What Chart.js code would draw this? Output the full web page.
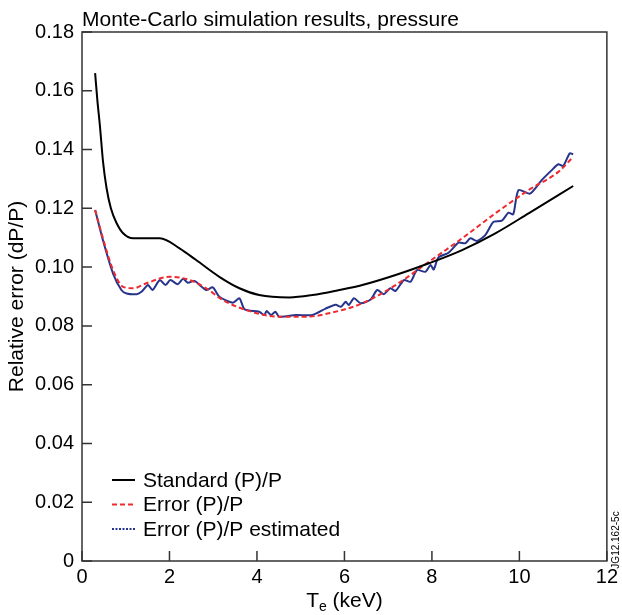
<!DOCTYPE html>
<html>
<head>
<meta charset="utf-8">
<script src="https://cdn.jsdelivr.net/npm/chart.js@4.4.1/dist/chart.umd.min.js"></script>
<style>
  html, body { margin: 0; padding: 0; background: #fff; }
  #wrap { width: 622px; height: 615px; position: relative; }
</style>
</head>
<body>
<div id="wrap"><canvas id="chart_mcPressure"></canvas></div>
<script>
// values
var titleText = 'Monte-Carlo simulation results, pressure';
var yTitle = 'Relative error (dP/P)';
var figId = 'JG12.162-5c';
var seriesLabels = ['Standard (P)/P', 'Error (P)/P', 'Error (P)/P estimated'];

var stdX = [0.30, 0.35, 0.41, 0.48, 0.56, 0.66, 0.79, 0.94, 1.17, 1.78, 2.23, 2.61, 3.14, 3.60, 4.05, 4.74, 5.27, 5.88, 6.41, 7.17, 7.93, 8.69, 9.45, 10.21, 11.23];
var stdY = [0.166, 0.157, 0.148, 0.136, 0.127, 0.120, 0.115, 0.1115, 0.1098, 0.1098, 0.1064, 0.1024, 0.0967, 0.0928, 0.0905, 0.0897, 0.0905, 0.0922, 0.0939, 0.0973, 0.1013, 0.1058, 0.1115, 0.1183, 0.1276];

var errX = [0.30, 0.49, 0.71, 0.94, 1.17, 1.47, 2.00, 2.46, 2.84, 3.22, 3.75, 4.51, 5.12, 5.65, 6.41, 7.17, 7.93, 8.69, 9.45, 10.21, 10.89, 11.20];
var errY = [0.1194, 0.1092, 0.0990, 0.0933, 0.0928, 0.0945, 0.0967, 0.0956, 0.0928, 0.0888, 0.0854, 0.0831, 0.0831, 0.0843, 0.0877, 0.0939, 0.1018, 0.1098, 0.1183, 0.1262, 0.1324, 0.1370];

var estX = [0.30, 0.50, 0.71, 0.90, 1.02, 1.25, 1.36, 1.51, 1.61, 1.78, 1.91, 2.02, 2.19, 2.31, 2.42, 2.57, 2.84, 2.99, 3.14, 3.45, 3.60, 3.72, 4.05, 4.17, 4.22, 4.32, 4.42, 4.51, 4.89, 5.27, 5.57, 5.80, 5.92, 6.03, 6.10, 6.22, 6.37, 6.60, 6.75, 6.90, 7.05, 7.17, 7.36, 7.51, 7.66, 7.85, 7.97, 8.04, 8.15, 8.38, 8.61, 8.76, 8.88, 9.03, 9.22, 9.41, 9.60, 9.75, 9.86, 9.98, 10.24, 10.51, 10.74, 10.89, 11.00, 11.15, 11.23];
var estY = [0.1194, 0.1080, 0.0978, 0.0922, 0.0910, 0.0908, 0.0916, 0.0939, 0.0922, 0.0956, 0.0939, 0.0956, 0.0942, 0.0960, 0.0947, 0.0953, 0.0922, 0.0931, 0.0899, 0.0879, 0.0894, 0.0856, 0.0848, 0.0837, 0.0851, 0.0837, 0.0848, 0.0831, 0.0837, 0.0837, 0.0859, 0.0872, 0.0865, 0.0882, 0.0871, 0.0894, 0.0877, 0.0890, 0.0922, 0.0908, 0.0928, 0.0919, 0.0956, 0.0950, 0.0990, 0.0984, 0.1007, 0.0992, 0.1033, 0.1049, 0.1083, 0.1081, 0.1098, 0.1089, 0.1109, 0.1154, 0.1158, 0.1185, 0.1180, 0.1262, 0.1250, 0.1296, 0.1330, 0.1350, 0.1344, 0.1387, 0.1384];

var xTicks = [0, 2, 4, 6, 8, 10, 12];
var yTicks = [0, 0.02, 0.04, 0.06, 0.08, 0.10, 0.12, 0.14, 0.16, 0.18];

var FONT = '"Liberation Sans", Arial, Helvetica, sans-serif';

function pts(xs, ys) {
    return xs.map(function (x, i) { return { x: x, y: ys[i] }; });
}

var chartDecor = {
    id: 'chartDecor',
    afterDraw: function (chart) {
        var ctx = chart.ctx;
        var a = chart.chartArea;
        var xs = chart.scales.x, ys = chart.scales.y;
        ctx.save();
        // frame
        ctx.strokeStyle = '#333';
        ctx.lineWidth = 1.5;
        ctx.strokeRect(a.left, a.top, a.right - a.left, a.bottom - a.top);
        // inward ticks
        ctx.beginPath();
        xTicks.forEach(function (v) {
            var px = xs.getPixelForValue(v);
            ctx.moveTo(px, a.bottom);
            ctx.lineTo(px, a.bottom - 10);
        });
        yTicks.forEach(function (v) {
            var py = ys.getPixelForValue(v);
            ctx.moveTo(a.left, py);
            ctx.lineTo(a.left + 10, py);
        });
        ctx.stroke();

        ctx.fillStyle = '#000';
        // title
        ctx.font = '21px ' + FONT;
        ctx.textAlign = 'left';
        ctx.textBaseline = 'alphabetic';
        ctx.fillText(titleText, a.left, 26);

        // x title with subscript
        var big = '21px ' + FONT, small = '14px ' + FONT;
        ctx.font = big;
        var wT = ctx.measureText('T').width;
        var wRest = ctx.measureText(' (keV)').width;
        ctx.font = small;
        var wE = ctx.measureText('e').width;
        var x0 = (a.left + a.right) / 2 - (wT + wE + wRest) / 2;
        var base = 607;
        ctx.font = big;
        ctx.fillText('T', x0, base);
        ctx.font = small;
        ctx.fillText('e', x0 + wT, base + 4);
        ctx.font = big;
        ctx.fillText(' (keV)', x0 + wT + wE, base);

        // figure id
        ctx.save();
        ctx.translate(616, 540);
        ctx.rotate(-Math.PI / 2);
        ctx.font = '10px ' + FONT;
        ctx.textAlign = 'center';
        ctx.textBaseline = 'middle';
        ctx.fillText(figId, 0, 0);
        ctx.restore();

        // legend, bottom left inside the plot
        chart.data.datasets.forEach(function (ds, i) {
            var y = a.bottom - 81 + i * 24.5;
            ctx.save();
            ctx.strokeStyle = ds.borderColor;
            ctx.lineWidth = ds.borderWidth;
            ctx.setLineDash(ds.legendDash || []);
            ctx.beginPath();
            ctx.moveTo(a.left + 30, y);
            ctx.lineTo(a.left + 53, y);
            ctx.stroke();
            ctx.restore();
            ctx.font = '21px ' + FONT;
            ctx.textBaseline = 'middle';
            ctx.fillStyle = '#000';
            ctx.fillText(ds.label, a.left + 61, y + 1);
        });
        ctx.restore();
    }
};

var chart_mcPressure = new Chart(document.getElementById('chart_mcPressure'), {
    type: 'line',
    data: {
        datasets: [
            {
                label: seriesLabels[0],
                data: pts(stdX, stdY),
                borderColor: '#000000',
                borderWidth: 2,
                cubicInterpolationMode: 'monotone',
                pointRadius: 0,
                legendDash: []
            },
            {
                label: seriesLabels[1],
                data: pts(errX, errY),
                borderColor: '#ee2a2e',
                borderWidth: 2,
                borderDash: [5, 3],
                cubicInterpolationMode: 'monotone',
                pointRadius: 0,
                legendDash: [5, 3]
            },
            {
                label: seriesLabels[2],
                data: pts(estX, estY),
                borderColor: '#27348b',
                borderWidth: 2,
                tension: 0.25,
                pointRadius: 0,
                legendDash: [2, 1.5]
            }
        ]
    },
    options: {
        animation: false,
        responsive: true,
        maintainAspectRatio: false,
        layout: {
            padding: { left: 0, right: 13, top: 32, bottom: 0 }
        },
        plugins: {
            legend: { display: false },
            title: { display: false },
            tooltip: { enabled: false }
        },
        scales: {
            x: {
                type: 'linear',
                min: 0,
                max: 12,
                border: { display: false },
                grid: { display: false, drawTicks: false },
                afterBuildTicks: function (s) {
                    s.ticks = xTicks.map(function (v) { return { value: v }; });
                },
                afterFit: function (s) { s.height = 54; },
                ticks: {
                    color: '#000',
                    padding: 4,
                    maxRotation: 0,
                    font: { family: FONT, size: 20 }
                }
            },
            y: {
                type: 'linear',
                min: 0,
                max: 0.18,
                border: { display: false },
                grid: { display: false, drawTicks: false },
                afterBuildTicks: function (s) {
                    s.ticks = yTicks.map(function (v) { return { value: v }; });
                },
                afterFit: function (s) { s.width = 82; },
                title: {
                    display: true,
                    text: yTitle,
                    color: '#000',
                    font: { family: FONT, size: 21 },
                    padding: { top: 5, bottom: 0 }
                },
                ticks: {
                    color: '#000',
                    padding: 8,
                    font: { family: FONT, size: 20 },
                    callback: function (v) {
                        return v === 0 ? '0' : v.toFixed(2);
                    }
                }
            }
        }
    },
    plugins: [chartDecor, {
        id: 'whiteBg',
        beforeDraw: function (chart) {
            var ctx = chart.canvas.getContext('2d');
            ctx.save();
            ctx.globalCompositeOperation = 'destination-over';
            ctx.fillStyle = 'white';
            ctx.fillRect(0, 0, chart.canvas.width, chart.canvas.height);
            ctx.restore();
        }
    }]
});
</script>
</body>
</html>
